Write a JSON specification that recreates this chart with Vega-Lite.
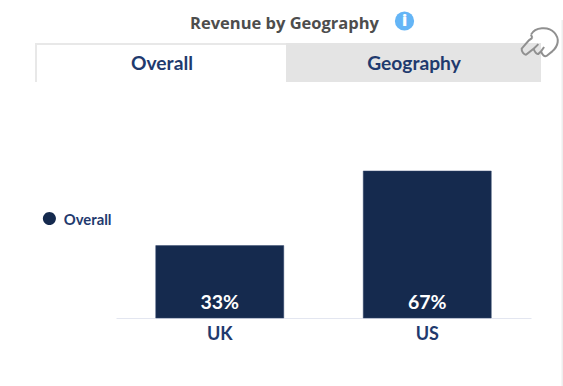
{
  "$schema": "https://vega.github.io/schema/vega-lite/v6.json",
  "width": 415,
  "height": 236,
  "autosize": "none",
  "padding": {"left": 116, "top": 82, "right": 32, "bottom": 68},
  "background": "white",
  "title": {"text": "Revenue by Geography", "anchor": "middle", "dx": -39, "offset": -21, "font": "Open Sans", "fontSize": 16.5, "fontWeight": "bold", "color": "#4d4d4d"},
  "config": {"view": {"stroke": null}},
  "layer": [
    {
      "data": {"values": [{"part": "pane edge", "from": 0, "to": 1}]},
      "mark": {"type": "rect", "color": "#eeeeee"},
      "encoding": {
        "x": {"field": "from", "type": "quantitative", "axis": null, "scale": {"domain": [0, 1], "range": [445.5, 447], "nice": false, "zero": false}},
        "x2": {"field": "to"},
        "y": {"field": "from", "type": "quantitative", "axis": null, "scale": {"domain": [0, 1], "range": [304, -62], "nice": false, "zero": false}},
        "y2": {"field": "to"}
      }
    },
    {
      "data": {"values": [{"part": "frame", "from": -1, "to": 2, "low": 0, "high": 2}]},
      "mark": {"type": "rect", "color": "#e8e8e8"},
      "encoding": {
        "x": {"field": "from", "type": "quantitative", "axis": null, "scale": {"domain": [-1, 0, 1, 2], "range": [-81, -79, 170, 425]}},
        "x2": {"field": "to"},
        "y": {"field": "low", "type": "quantitative", "axis": null, "scale": {"domain": [0, 1, 2], "range": [0, -37, -39]}},
        "y2": {"field": "high"}
      }
    },
    {
      "data": {"values": [
        {"tab": "Overall", "from": 0, "to": 1, "low": 0, "high": 1, "mid": 0.5, "state": "active"},
        {"tab": "Geography", "from": 1, "to": 2, "low": 0, "high": 2, "mid": 1.5, "state": "idle"}
      ]},
      "resolve": {"scale": {"color": "independent"}},
      "layer": [
        {
          "mark": {"type": "rect"},
          "encoding": {
            "x": {"field": "from", "type": "quantitative", "axis": null, "scale": {"domain": [-1, 0, 1, 2], "range": [-81, -79, 170, 425]}},
            "x2": {"field": "to"},
            "y": {"field": "low", "type": "quantitative", "axis": null, "scale": {"domain": [0, 1, 2], "range": [0, -37, -39]}},
            "y2": {"field": "high"},
            "fill": {"field": "state", "type": "nominal", "legend": null, "scale": {"domain": ["active", "idle"], "range": ["#ffffff", "#e4e4e4"]}}
          }
        },
        {
          "mark": {"type": "text", "font": "Lato", "fontWeight": "bold", "fontSize": 19.2, "color": "#1f3a6e", "baseline": "middle", "dx": 0.5},
          "encoding": {
            "x": {"field": "mid", "type": "quantitative", "axis": null, "scale": {"domain": [-1, 0, 1, 2], "range": [-81, -79, 170, 425]}},
            "y": {"datum": 0.5, "type": "quantitative", "axis": null, "scale": {"domain": [0, 1, 2], "range": [0, -37, -39]}},
            "text": {"field": "tab"}
          }
        }
      ]
    },
    {
      "data": {"values": [
        {"country": "UK", "share": 0.33, "series": "Overall"},
        {"country": "US", "share": 0.67, "series": "Overall"}
      ]},
      "layer": [
        {
          "mark": {"type": "bar", "stroke": "#34496f", "strokeWidth": 0.5},
          "encoding": {
            "x": {"field": "country", "type": "nominal", "title": null, "scale": {"paddingInner": 0.383, "paddingOuter": 0.1915}, "axis": {"labelAngle": 0, "ticks": false, "domainColor": "#e3e6f0", "domainWidth": 1, "labelFont": "Lato", "labelFontWeight": "bold", "labelFontSize": 18, "labelColor": "#1f3a6e", "labelPadding": 7, "grid": false}},
            "y": {"field": "share", "type": "quantitative", "axis": null, "scale": {"domain": [0, 1.0756], "nice": false}},
            "color": {"field": "series", "type": "nominal", "scale": {"range": ["#152a4e"]}, "legend": {"title": null, "orient": "none", "legendX": -74, "legendY": 132, "symbolType": "M-1-.46 A1 1 0 1 1 1-.46 A1 1 0 1 1-1-.46 Z", "symbolSize": 170, "symbolOpacity": 1, "symbolStrokeWidth": 0, "labelFont": "Lato", "labelFontWeight": "bold", "labelFontSize": 14.8, "labelColor": "#1f3a6e", "labelOffset": 7}}
          }
        },
        {
          "mark": {"type": "text", "font": "Lato", "fontWeight": "bold", "fontSize": 19.5, "color": "white", "baseline": "bottom", "dy": -5},
          "encoding": {
            "x": {"field": "country", "type": "nominal"},
            "y": {"datum": 0, "type": "quantitative"},
            "text": {"field": "share", "type": "quantitative", "format": ".0%"}
          }
        }
      ]
    },
    {
      "data": {"values": [{"icon": "info", "glyph": "i"}, {"icon": "hand", "glyph": ""}]},
      "layer": [
        {
          "transform": [{"filter": "datum.icon === 'info'"}],
          "mark": {"type": "point", "shape": "circle", "filled": true, "size": 370, "color": "#64b5f6", "opacity": 1},
          "encoding": {
            "x": {"field": "icon", "type": "nominal", "axis": null, "scale": {"type": "point", "domain": ["info", "hand"], "range": [288.5, 424.3], "padding": 0}},
            "y": {"field": "icon", "type": "nominal", "axis": null, "scale": {"type": "point", "domain": ["info", "hand"], "range": [-61, -40.7], "padding": 0}}
          }
        },
        {
          "transform": [{"filter": "datum.icon === 'info'"}],
          "mark": {"type": "text", "font": "Open Sans", "fontWeight": "800", "fontSize": 16, "color": "white", "baseline": "middle"},
          "encoding": {
            "x": {"field": "icon", "type": "nominal"},
            "y": {"field": "icon", "type": "nominal"},
            "text": {"field": "glyph"}
          }
        },
        {
          "transform": [{"filter": "datum.icon === 'hand'"}],
          "mark": {"type": "point", "filled": false, "size": 1444, "stroke": "#909090", "strokeWidth": 2, "opacity": 1, "shape": "M-.49-.35 C-.28-.75 .42-.81 .74-.46 C1.03-.14 .95 .25 .63 .53 L.33 .77 C.2 .82 .1 .7 .04 .53 L-.11 .67 C-.2 .7 -.3 .55 -.35 .39 L-.74 .7 C-.85 .72 -1 .55 -.98 .39 L-.6-.05 L-.42-.18 M-.42-.18 L-.49-.35 M-.35 .39 L-.1 .15 M.04 .53 L.2 .3"},
          "encoding": {
            "x": {"field": "icon", "type": "nominal"},
            "y": {"field": "icon", "type": "nominal"}
          }
        }
      ]
    }
  ],
  "resolve": {"scale": {"x": "independent", "y": "independent", "color": "independent"}}
}
